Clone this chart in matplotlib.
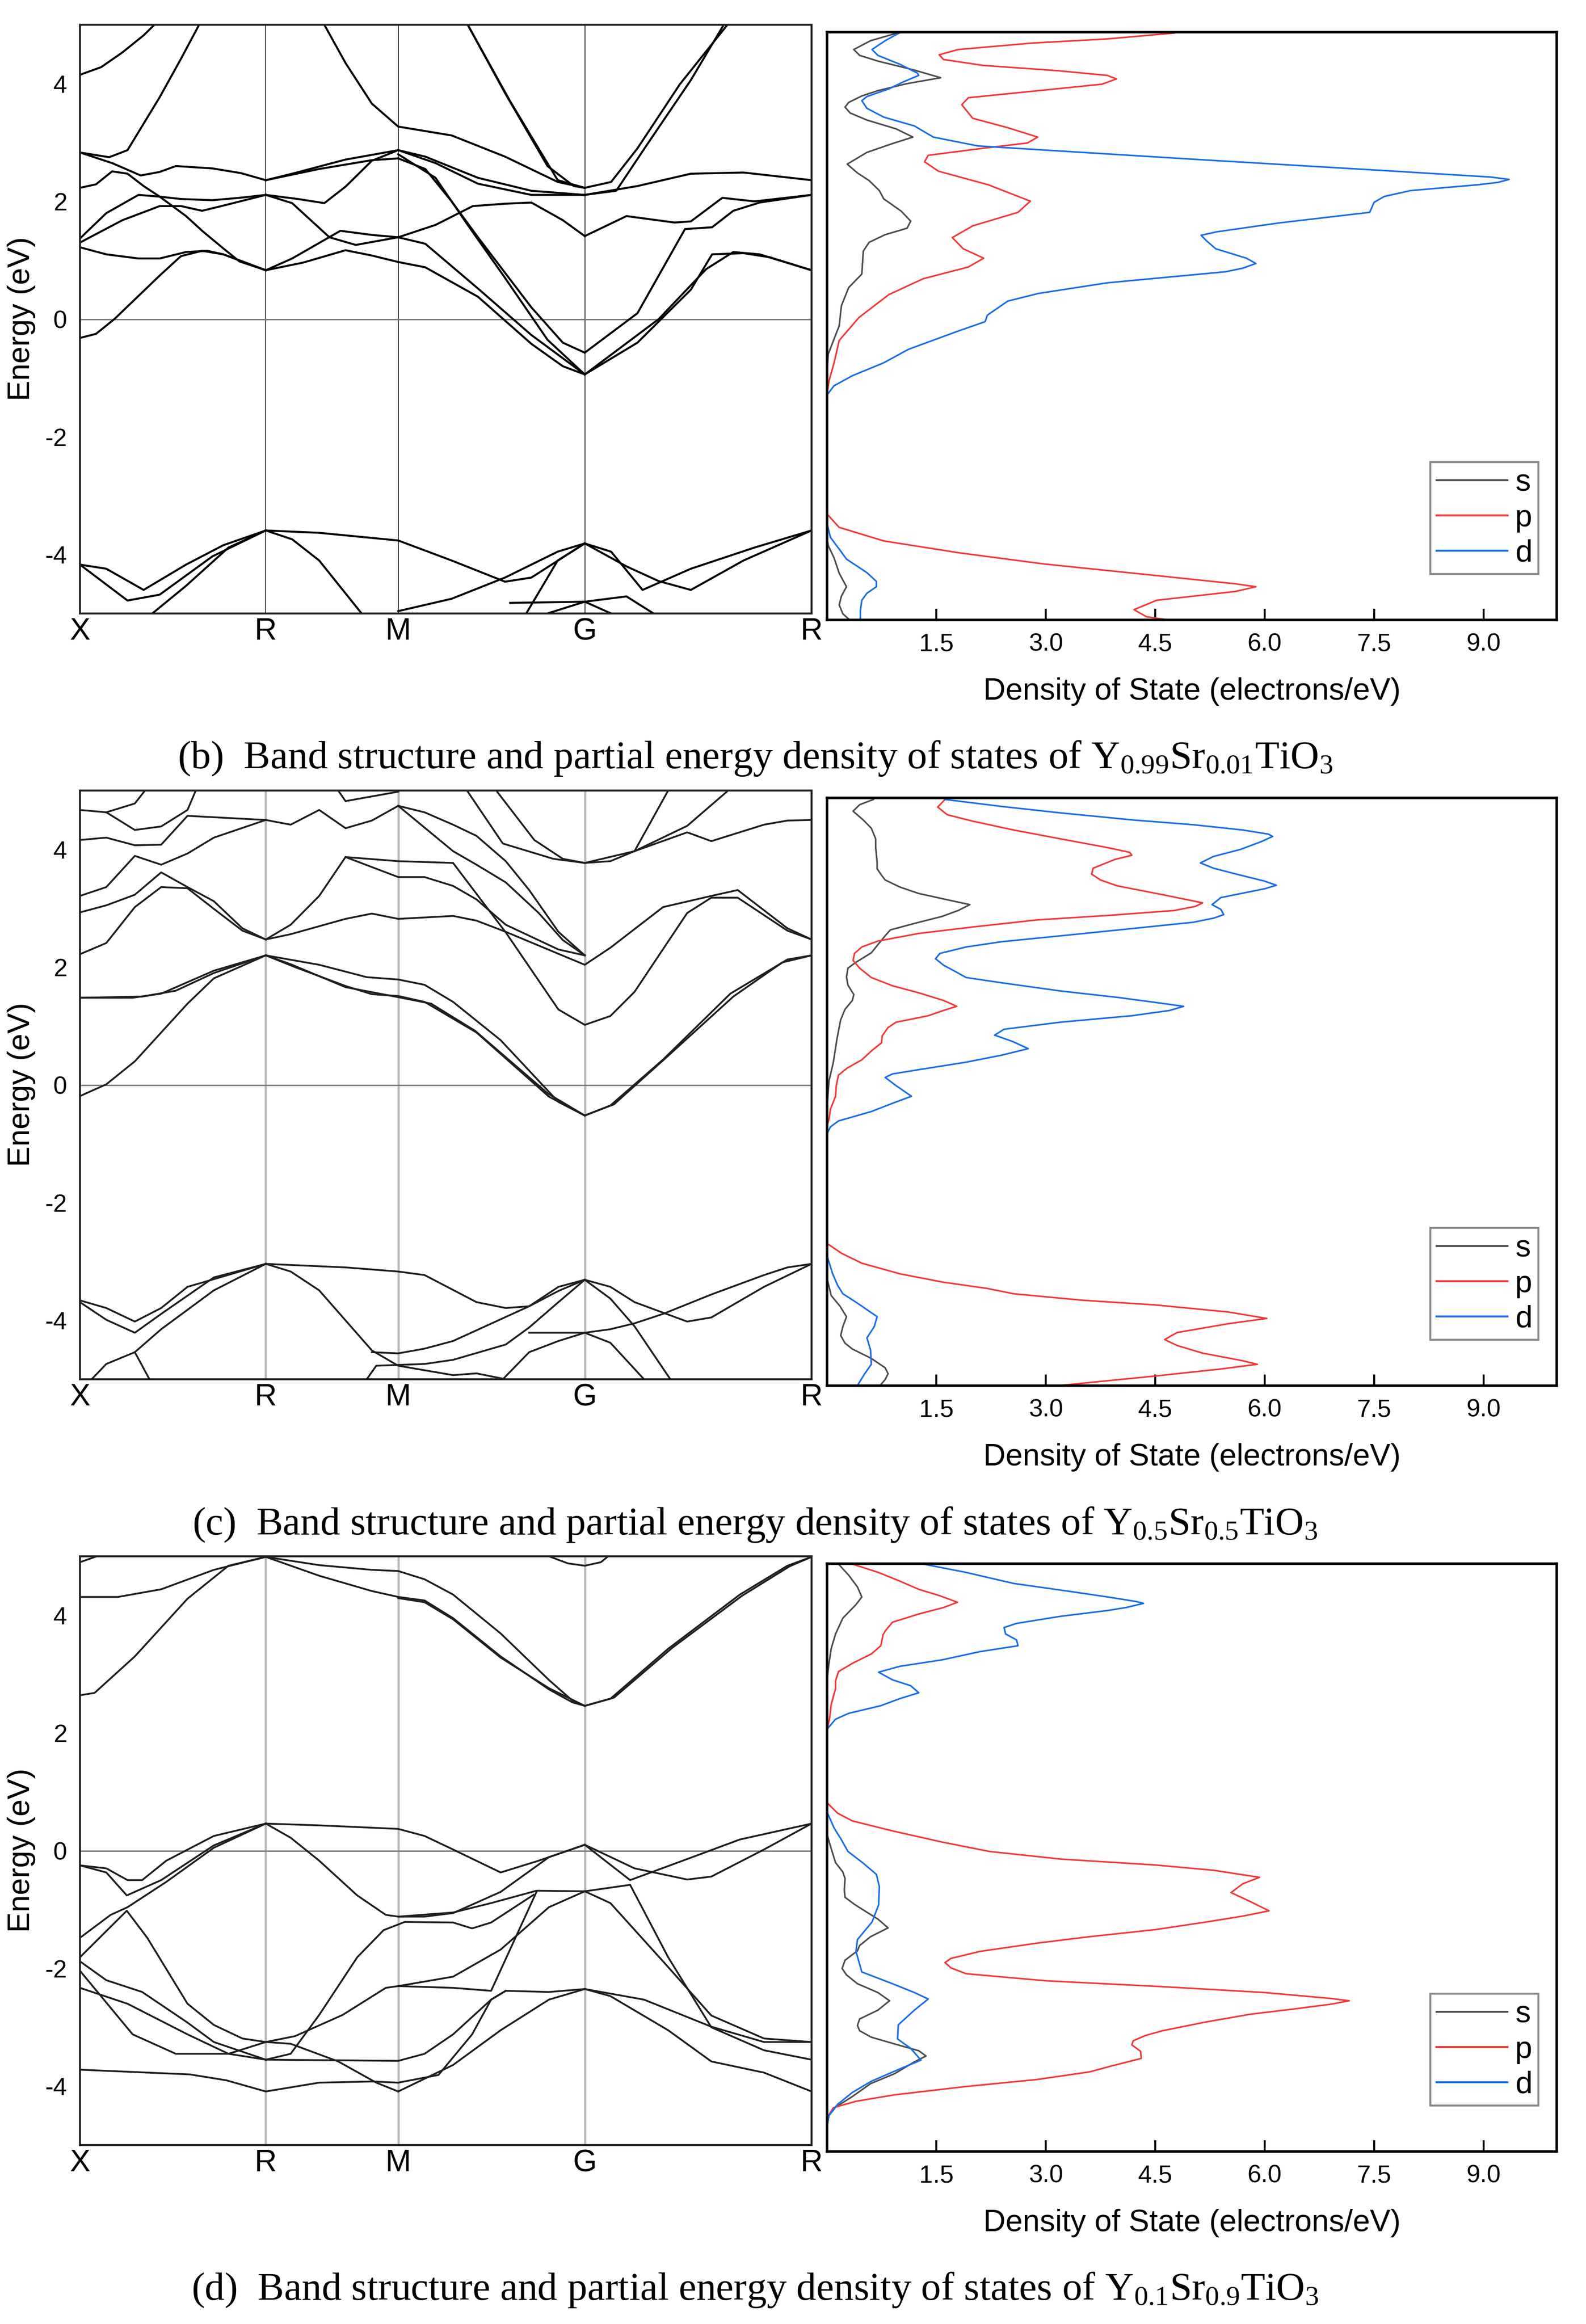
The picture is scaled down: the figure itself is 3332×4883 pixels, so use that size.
import numpy as np
import matplotlib.pyplot as plt
from matplotlib.lines import Line2D

plt.rcParams['font.family'] = ['Liberation Sans', 'DejaVu Sans']
plt.rcParams['axes.unicode_minus'] = False

# --- path / axes values ---
K_NODES = [0.0, 0.254, 0.435, 0.690, 1.0]
K_NAMES = ['X', 'R', 'M', 'G', 'R']
E_TICKS = [-4, -2, 0, 2, 4]
DOS_TICKS = [1.5, 3.0, 4.5, 6.0, 7.5, 9.0]
DOS_TICK_LABELS = ['1.5', '3.0', '4.5', '6.0', '7.5', '9.0']
ORBITALS = ['s', 'p', 'd']

CAPTIONS = [
    '(b)  Band structure and partial energy density of states of '
    'Y$\\mathregular{_{0.99}}$Sr$\\mathregular{_{0.01}}$TiO$\\mathregular{_3}$',
    '(c)  Band structure and partial energy density of states of '
    'Y$\\mathregular{_{0.5}}$Sr$\\mathregular{_{0.5}}$TiO$\\mathregular{_3}$',
    '(d)  Band structure and partial energy density of states of '
    'Y$\\mathregular{_{0.1}}$Sr$\\mathregular{_{0.9}}$TiO$\\mathregular{_3}$',
]

# --- bands, (k, E) ---
bands_b = [
    [(0, 4.15), (0.029, 4.28), (0.058, 4.53), (0.087, 4.82), (0.11, 5.1)],
    [(0, 2.83), (0.040, 2.75), (0.065, 2.87), (0.109, 3.77), (0.138, 4.42), (0.165, 5.05)],
    [(0, 2.83), (0.044, 2.65), (0.083, 2.44), (0.109, 2.5), (0.131, 2.6), (0.181, 2.56), (0.22, 2.48), (0.254, 2.36)],
    [(0, 2.23), (0.022, 2.29), (0.044, 2.51), (0.065, 2.47), (0.087, 2.26), (0.109, 2.08), (0.145, 1.75),
     (0.167, 1.50), (0.196, 1.2), (0.218, 0.98), (0.254, 0.83)],
    [(0, 1.37), (0.036, 1.80), (0.080, 2.11), (0.109, 2.08), (0.138, 2.04), (0.181, 2.02), (0.218, 2.06), (0.254, 2.11)],
    [(0, 1.30), (0.058, 1.68), (0.109, 1.92), (0.138, 1.92), (0.167, 1.84), (0.203, 1.95), (0.254, 2.11)],
    [(0, 1.22), (0.036, 1.10), (0.080, 1.03), (0.109, 1.03), (0.145, 1.14), (0.174, 1.16), (0.196, 1.1), (0.254, 0.83)],
    [(0, -0.32), (0.022, -0.25), (0.047, 0.0), (0.109, 0.74), (0.138, 1.07), (0.167, 1.16), (0.196, 1.10), (0.254, 0.83)],
    [(0.254, 2.36), (0.29, 2.47), (0.363, 2.71), (0.435, 2.87)],
    [(0.254, 2.36), (0.327, 2.55), (0.399, 2.7), (0.435, 2.73)],
    [(0.254, 2.11), (0.29, 1.97), (0.341, 1.39), (0.377, 1.26), (0.435, 1.39)],
    [(0.254, 2.11), (0.298, 2.04), (0.334, 1.97), (0.363, 2.25), (0.399, 2.69), (0.435, 2.87)],
    [(0.254, 0.83), (0.29, 1.03), (0.356, 1.50), (0.399, 1.43), (0.435, 1.39)],
    [(0.254, 0.83), (0.305, 0.96), (0.363, 1.17), (0.399, 1.08), (0.435, 0.97)],
    [(0.334, 5.0), (0.363, 4.35), (0.399, 3.66), (0.435, 3.27), (0.508, 3.12), (0.581, 2.76),
     (0.653, 2.33), (0.690, 2.23)],
    [(0.435, 2.87), (0.472, 2.76), (0.544, 2.40), (0.617, 2.18), (0.690, 2.11)],
    [(0.435, 2.87), (0.486, 2.65), (0.544, 2.30), (0.617, 2.11), (0.690, 2.11)],
    [(0.435, 2.73), (0.472, 2.55), (0.508, 2.0), (0.544, 1.39), (0.617, 0.2), (0.660, -0.4), (0.690, -0.57)],
    [(0.435, 2.8), (0.486, 2.4), (0.530, 1.6), (0.581, 0.7), (0.639, -0.35), (0.690, -0.94)],
    [(0.435, 1.39), (0.472, 1.28), (0.544, 0.52), (0.617, -0.27), (0.690, -0.94)],
    [(0.435, 0.97), (0.472, 0.88), (0.544, 0.38), (0.617, -0.42), (0.660, -0.8), (0.690, -0.94)],
    [(0.435, 1.39), (0.486, 1.6), (0.537, 1.92), (0.581, 1.96), (0.617, 1.98), (0.660, 1.68), (0.690, 1.41)],
    [(0.530, 5.0), (0.581, 3.84), (0.639, 2.6), (0.675, 2.26), (0.690, 2.23)],
    [(0.530, 5.0), (0.588, 3.70), (0.653, 2.36), (0.690, 2.23)],
    [(0.690, 2.23), (0.726, 2.33), (0.762, 2.9), (0.820, 3.99), (0.885, 5.0)],
    [(0.690, 2.11), (0.733, 2.18), (0.776, 2.98), (0.835, 4.06), (0.88, 5.0)],
    [(0.690, 2.11), (0.762, 2.26), (0.835, 2.47), (0.907, 2.49), (1.0, 2.36)],
    [(0.690, 1.41), (0.747, 1.75), (0.813, 1.64), (0.835, 1.66), (0.878, 2.06), (0.922, 2.0), (1.0, 2.11)],
    [(0.690, -0.57), (0.762, 0.1), (0.827, 1.53), (0.864, 1.56), (0.893, 1.84), (0.929, 1.98), (1.0, 2.11)],
    [(0.690, -0.94), (0.762, -0.4), (0.835, 0.5), (0.864, 1.1), (0.907, 1.12), (0.943, 1.05), (1.0, 0.83)],
    [(0.690, -0.94), (0.791, 0.0), (0.856, 0.85), (0.893, 1.14), (0.929, 1.1), (1.0, 0.83)],
    [(0, -4.17), (0.036, -4.24), (0.087, -4.6), (0.145, -4.17), (0.196, -3.84), (0.254, -3.59)],
    [(0, -4.17), (0.065, -4.78), (0.109, -4.68), (0.181, -4.03), (0.254, -3.59)],
    [(0.094, -5.05), (0.145, -4.53), (0.203, -3.88), (0.254, -3.59)],
    [(0.254, -3.59), (0.327, -3.63), (0.435, -3.76), (0.508, -4.10), (0.581, -4.46), (0.617, -4.39), (0.690, -3.81)],
    [(0.254, -3.59), (0.290, -3.74), (0.327, -4.1), (0.385, -5.0)],
    [(0.435, -4.96), (0.508, -4.75), (0.581, -4.39), (0.653, -3.95), (0.690, -3.81)],
    [(0.61, -5.0), (0.653, -4.1), (0.690, -3.81)],
    [(0.690, -3.81), (0.726, -3.95), (0.769, -4.6), (0.835, -4.24), (0.922, -3.88), (1.0, -3.59)],
    [(0.690, -3.81), (0.747, -4.2), (0.791, -4.45), (0.835, -4.6), (0.907, -4.1), (1.0, -3.59)],
    [(0.588, -4.82), (0.690, -4.8), (0.747, -4.71), (0.784, -5.0)],
    [(0.639, -5.0), (0.690, -4.8), (0.726, -5.0)],
]

bands_c = [
    [(0, -0.19), (0.036, 0.01), (0.075, 0.40), (0.147, 1.38), (0.183, 1.81), (0.254, 2.20)],
    [(0, 1.48), (0.072, 1.48), (0.111, 1.55), (0.183, 1.94), (0.254, 2.2)],
    [(0, 1.48), (0.085, 1.50), (0.131, 1.6), (0.183, 1.90), (0.254, 2.2)],
    [(0.254, 2.2), (0.327, 2.04), (0.392, 1.83), (0.435, 1.79), (0.471, 1.70), (0.510, 1.41), (0.575, 0.76),
     (0.654, -0.29), (0.690, -0.52)],
    [(0.254, 2.2), (0.294, 2.0), (0.363, 1.68), (0.399, 1.54), (0.435, 1.51), (0.471, 1.41), (0.542, 0.89),
     (0.641, -0.2), (0.690, -0.52)],
    [(0.254, 2.2), (0.288, 2.05), (0.363, 1.66), (0.435, 1.49), (0.480, 1.38), (0.54, 0.92), (0.64, -0.15), (0.690, -0.52)],
    [(0.690, -0.52), (0.725, -0.35), (0.797, 0.43), (0.889, 1.55), (0.967, 2.13), (1.0, 2.2)],
    [(0.690, -0.52), (0.73, -0.33), (0.80, 0.45), (0.893, 1.5), (0.96, 2.08), (1.0, 2.2)],
    [(0, 2.22), (0.036, 2.41), (0.075, 3.02), (0.111, 3.36), (0.147, 3.34), (0.183, 2.99), (0.222, 2.62), (0.254, 2.47)],
    [(0, 2.93), (0.036, 3.05), (0.075, 3.23), (0.111, 3.61), (0.147, 3.36), (0.183, 3.12), (0.222, 2.66), (0.254, 2.47)],
    [(0, 3.21), (0.036, 3.36), (0.075, 3.89), (0.111, 3.74), (0.147, 3.93), (0.183, 4.2), (0.254, 4.5)],
    [(0, 4.16), (0.036, 4.20), (0.075, 4.07), (0.111, 4.08), (0.147, 4.57), (0.254, 4.5)],
    [(0, 4.67), (0.036, 4.63), (0.075, 4.33), (0.111, 4.39), (0.147, 4.67), (0.160, 5.05)],
    [(0.036, 4.63), (0.075, 4.78), (0.092, 5.05)],
    [(0.254, 4.5), (0.288, 4.42), (0.327, 4.67), (0.363, 4.36), (0.399, 4.49), (0.435, 4.74)],
    [(0.353, 5.0), (0.363, 4.82), (0.435, 4.98)],
    [(0.254, 2.47), (0.288, 2.56), (0.363, 2.82), (0.399, 2.91), (0.435, 2.82), (0.510, 2.87), (0.542, 2.79),
     (0.582, 2.6), (0.690, 2.04), (0.725, 2.33), (0.797, 3.02), (0.863, 3.21), (0.899, 3.31), (0.967, 2.66), (1.0, 2.47)],
    [(0.254, 2.47), (0.288, 2.72), (0.327, 3.21), (0.363, 3.87), (0.435, 3.80), (0.51, 3.77), (0.582, 2.59),
     (0.654, 1.28), (0.690, 1.02), (0.725, 1.17), (0.758, 1.58), (0.830, 2.92), (0.863, 3.18), (0.899, 3.18),
     (0.967, 2.62), (1.0, 2.47)],
    [(0.363, 3.87), (0.399, 3.70), (0.435, 3.53), (0.471, 3.53), (0.510, 3.38), (0.542, 3.15), (0.582, 2.72),
     (0.654, 2.3), (0.690, 2.2)],
    [(0.435, 4.74), (0.471, 4.63), (0.510, 4.42), (0.542, 4.23), (0.582, 3.80), (0.614, 3.31), (0.654, 2.6), (0.690, 2.2)],
    [(0.435, 4.74), (0.510, 3.97), (0.542, 3.74), (0.582, 3.44), (0.627, 2.92), (0.660, 2.46), (0.690, 2.2)],
    [(0.529, 5.0), (0.578, 4.10), (0.647, 3.84), (0.690, 3.77)],
    [(0.569, 5.0), (0.621, 4.16), (0.660, 3.84), (0.690, 3.77)],
    [(0.690, 3.77), (0.725, 3.80), (0.758, 3.97), (0.804, 5.0)],
    [(0.690, 3.77), (0.758, 3.97), (0.830, 4.29), (0.863, 4.14), (0.935, 4.42), (0.967, 4.49), (1.0, 4.5)],
    [(0.758, 3.97), (0.83, 4.4), (0.886, 5.0)],
    [(0, -3.66), (0.036, -3.79), (0.075, -4.02), (0.111, -3.79), (0.147, -3.43), (0.183, -3.30), (0.254, -3.04)],
    [(0, -3.69), (0.036, -3.99), (0.075, -4.21), (0.111, -3.89), (0.183, -3.27), (0.254, -3.04)],
    [(0.016, -5.0), (0.036, -4.74), (0.075, -4.54), (0.111, -4.15), (0.183, -3.49), (0.254, -3.04)],
    [(0.075, -4.54), (0.095, -5.0)],
    [(0.254, -3.04), (0.363, -3.10), (0.435, -3.17), (0.471, -3.23), (0.542, -3.69), (0.582, -3.79),
     (0.614, -3.76), (0.654, -3.43), (0.690, -3.31)],
    [(0.254, -3.04), (0.288, -3.17), (0.327, -3.49), (0.399, -4.51), (0.435, -4.77), (0.510, -4.93),
     (0.542, -4.90), (0.582, -5.0)],
    [(0.399, -4.54), (0.435, -4.56), (0.471, -4.48), (0.510, -4.35), (0.614, -3.76), (0.654, -3.5), (0.690, -3.31)],
    [(0.392, -5.0), (0.405, -4.77), (0.471, -4.74), (0.510, -4.67), (0.582, -4.41), (0.614, -4.12),
     (0.654, -3.69), (0.690, -3.31)],
    [(0.690, -3.31), (0.725, -3.43), (0.758, -3.69), (0.830, -4.02), (0.863, -3.95), (0.935, -3.43), (1.0, -3.04)],
    [(0.614, -4.21), (0.654, -4.21), (0.690, -4.21), (0.725, -4.15), (0.758, -4.05), (0.797, -3.89),
     (0.863, -3.56), (0.935, -3.23), (0.967, -3.10), (1.0, -3.04)],
    [(0.690, -3.31), (0.725, -3.63), (0.758, -4.1), (0.807, -5.0)],
    [(0.578, -5.0), (0.614, -4.54), (0.654, -4.35), (0.690, -4.21), (0.725, -4.38), (0.771, -5.0)],
]

bands_d = [
    [(0, 4.31), (0.052, 4.31), (0.111, 4.44), (0.183, 4.77), (0.254, 4.99)],
    [(0, 2.64), (0.020, 2.68), (0.075, 3.30), (0.147, 4.28), (0.203, 4.84), (0.254, 4.99)],
    [(0, 4.90), (0.023, 5.0)],
    [(0.254, 4.99), (0.327, 4.67), (0.399, 4.41), (0.435, 4.31), (0.471, 4.25), (0.510, 3.95), (0.575, 3.30),
     (0.641, 2.74), (0.673, 2.52), (0.690, 2.46)],
    [(0.254, 4.99), (0.327, 4.85), (0.399, 4.77), (0.435, 4.75), (0.471, 4.61), (0.510, 4.35), (0.575, 3.69),
     (0.641, 2.90), (0.673, 2.55), (0.690, 2.46)],
    [(0.435, 4.29), (0.471, 4.22), (0.510, 3.93), (0.575, 3.28), (0.641, 2.76), (0.690, 2.46)],
    [(0.690, 2.46), (0.725, 2.58), (0.804, 3.43), (0.902, 4.35), (0.967, 4.84), (1.0, 4.99)],
    [(0.690, 2.46), (0.73, 2.6), (0.81, 3.45), (0.905, 4.33), (0.97, 4.83), (1.0, 4.99)],
    [(0.641, 5.0), (0.667, 4.88), (0.690, 4.84), (0.712, 4.90), (0.722, 5.0)],
    [(0, -0.25), (0.036, -0.30), (0.065, -0.50), (0.085, -0.50), (0.118, -0.17), (0.183, 0.25), (0.254, 0.46)],
    [(0, -0.25), (0.036, -0.37), (0.064, -0.76), (0.111, -0.50), (0.183, 0.09), (0.254, 0.46)],
    [(0, -1.48), (0.042, -1.09), (0.065, -0.96), (0.118, -0.53), (0.183, 0.05), (0.254, 0.46)],
    [(0, -1.81), (0.064, -1.02), (0.092, -1.48), (0.147, -2.6), (0.183, -2.96), (0.222, -3.19), (0.254, -3.25),
     (0.294, -3.15), (0.359, -2.79), (0.418, -2.33), (0.435, -2.30)],
    [(0.254, 0.46), (0.327, 0.43), (0.435, 0.37), (0.471, 0.25), (0.510, 0.02), (0.575, -0.37), (0.627, -0.17), (0.690, 0.10)],
    [(0.254, 0.46), (0.288, 0.22), (0.327, -0.17), (0.379, -0.76), (0.418, -1.09), (0.435, -1.12), (0.471, -1.12),
     (0.510, -1.06), (0.575, -0.70), (0.641, -0.11), (0.690, 0.10)],
    [(0.435, -1.12), (0.510, -1.05), (0.562, -0.89), (0.624, -0.68), (0.690, -0.69), (0.752, -0.58),
     (0.804, -1.81), (0.863, -3.0), (0.935, -3.39), (1.0, -3.55)],
    [(0.254, -3.55), (0.288, -3.45), (0.327, -2.79), (0.379, -1.81), (0.415, -1.35), (0.444, -1.21),
     (0.510, -1.22), (0.536, -1.32), (0.562, -1.22), (0.62, -0.75)],
    [(0.690, 0.10), (0.758, -0.30), (0.830, -0.49), (0.863, -0.44), (0.935, 0.02), (1.0, 0.46)],
    [(0.690, 0.10), (0.752, -0.50), (0.837, -0.11), (0.902, 0.19), (1.0, 0.46)],
    [(0.690, -0.69), (0.725, -0.89), (0.797, -1.88), (0.863, -2.8), (0.935, -3.19), (1.0, -3.25)],
    [(0.435, -2.30), (0.510, -2.14), (0.575, -1.68), (0.641, -0.96), (0.690, -0.69)],
    [(0.435, -2.30), (0.510, -2.33), (0.562, -2.38), (0.624, -0.70)],
    [(0.435, -3.94), (0.490, -3.81), (0.536, -3.12), (0.562, -2.53), (0.582, -2.38), (0.641, -2.40), (0.690, -2.35)],
    [(0.435, -4.09), (0.510, -3.64), (0.575, -3.05), (0.641, -2.53), (0.690, -2.35)],
    [(0.690, -2.35), (0.725, -2.47), (0.804, -3.05), (0.863, -3.58), (0.935, -3.77), (1.0, -4.09)],
    [(0.690, -2.35), (0.771, -2.53), (0.863, -2.99), (0.935, -3.25), (1.0, -3.25)],
    [(0, -3.72), (0.150, -3.80), (0.200, -3.90), (0.254, -4.09), (0.327, -3.94), (0.40, -3.92), (0.435, -3.94)],
    [(0.254, -3.55), (0.435, -3.57), (0.471, -3.45), (0.510, -3.12), (0.562, -2.53), (0.582, -2.38)],
    [(0.254, -3.25), (0.288, -3.28), (0.353, -3.58), (0.405, -3.94), (0.435, -4.09)],
    [(0, -1.88), (0.036, -2.2), (0.085, -2.4), (0.147, -2.92), (0.183, -3.25), (0.254, -3.55)],
    [(0, -2.33), (0.065, -2.60), (0.147, -3.12), (0.203, -3.45), (0.254, -3.55)],
    [(0, -2.04), (0.072, -3.12), (0.131, -3.45), (0.203, -3.45), (0.254, -3.25)],
]

# --- partial DOS, (E, states) ---
dos_b_s = [(5.0, 1.02), (4.85, 0.6), (4.7, 0.37), (4.6, 0.45), (4.5, 0.71), (4.35, 1.2), (4.22, 1.56),
           (4.12, 1.1), (4.0, 0.7), (3.91, 0.48), (3.8, 0.3), (3.72, 0.25), (3.62, 0.32), (3.5, 0.55),
           (3.35, 0.95), (3.21, 1.18), (3.1, 0.9), (2.95, 0.55), (2.75, 0.28), (2.6, 0.42), (2.47, 0.58),
           (2.3, 0.72), (2.16, 0.78), (1.95, 1.02), (1.78, 1.15), (1.66, 1.1), (1.55, 0.8), (1.42, 0.58),
           (1.27, 0.5), (0.88, 0.48), (0.65, 0.3), (0.34, 0.2), (0.0, 0.17), (-0.48, 0.02), (-0.8, 0.0),
           (-3.6, 0.0), (-3.74, 0.02), (-3.95, 0.1), (-4.21, 0.17), (-4.44, 0.27), (-4.6, 0.2),
           (-4.75, 0.17), (-4.9, 0.22), (-5.0, 0.31)]
dos_b_p = [(4.98, 4.76), (4.88, 3.84), (4.81, 2.82), (4.70, 1.80), (4.61, 1.54), (4.53, 1.60), (4.43, 2.14),
           (4.34, 3.16), (4.26, 3.84), (4.2, 3.97), (4.11, 3.77), (3.99, 2.82), (3.88, 1.94), (3.76, 1.85),
           (3.53, 2.0), (3.37, 2.48), (3.21, 2.89), (3.11, 2.75), (3.02, 2.14), (2.90, 1.39), (2.79, 1.34),
           (2.63, 1.53), (2.40, 2.21), (2.12, 2.79), (1.93, 2.62), (1.70, 2.0), (1.50, 1.72), (1.31, 1.87),
           (1.15, 2.15), (1.00, 1.94), (0.80, 1.32), (0.53, 0.85), (0.14, 0.44), (-0.25, 0.17),
           (-0.63, 0.1), (-0.94, 0.03), (-1.18, 0.0), (-3.2, 0.0), (-3.43, 0.17), (-3.66, 0.78),
           (-3.86, 1.8), (-4.05, 2.96), (-4.25, 4.52), (-4.39, 5.6), (-4.44, 5.88), (-4.52, 5.6),
           (-4.67, 4.52), (-4.83, 4.21), (-4.95, 4.38), (-5.0, 4.65)]
dos_b_d = [(4.98, 0.99), (4.85, 0.80), (4.7, 0.62), (4.6, 0.70), (4.45, 1.0), (4.3, 1.24), (4.26, 1.26),
           (4.15, 1.05), (4.03, 0.85), (3.9, 0.55), (3.83, 0.48), (3.7, 0.55), (3.55, 0.78), (3.4, 1.2),
           (3.21, 1.46), (3.06, 2.07), (2.95, 3.5), (2.82, 5.2), (2.63, 7.78), (2.53, 9.1), (2.49, 9.35),
           (2.44, 9.2), (2.40, 8.93), (2.3, 8.0), (2.2, 7.64), (2.1, 7.5), (1.93, 7.44), (1.75, 6.2),
           (1.6, 5.35), (1.54, 5.13), (1.45, 5.2), (1.31, 5.33), (1.15, 5.75), (1.06, 5.88), (0.98, 5.7),
           (0.92, 5.47), (0.73, 3.84), (0.55, 2.9), (0.42, 2.48), (0.18, 2.2), (0.07, 2.17), (-0.09, 1.8),
           (-0.4, 1.12), (-0.63, 0.78), (-0.85, 0.35), (-1.02, 0.1), (-1.18, 0.0), (-3.35, 0.0),
           (-3.6, 0.05), (-3.85, 0.2), (-3.97, 0.27), (-4.2, 0.55), (-4.35, 0.68), (-4.44, 0.68),
           (-4.55, 0.55), (-4.67, 0.48), (-4.85, 0.46), (-5.0, 0.46)]

dos_c_s = [(4.97, 0.64), (4.88, 0.45), (4.77, 0.36), (4.62, 0.5), (4.48, 0.61), (4.3, 0.67), (4.15, 0.67),
           (3.9, 0.69), (3.79, 0.69), (3.68, 0.75), (3.6, 0.8), (3.48, 1.0), (3.37, 1.26), (3.25, 1.7),
           (3.18, 1.96), (3.08, 1.8), (2.98, 1.58), (2.86, 1.2), (2.75, 0.87), (2.65, 0.8), (2.56, 0.74),
           (2.36, 0.61), (2.2, 0.4), (2.1, 0.29), (1.95, 0.27), (1.81, 0.29), (1.65, 0.37), (1.55, 0.35),
           (1.4, 0.25), (1.22, 0.19), (0.9, 0.14), (0.5, 0.09), (0.18, 0.03), (-0.15, 0.01), (-0.5, 0.0),
           (-3.21, 0.01), (-3.47, 0.06), (-3.65, 0.18), (-3.83, 0.27), (-4.0, 0.22), (-4.15, 0.19),
           (-4.28, 0.25), (-4.38, 0.35), (-4.54, 0.61), (-4.7, 0.8), (-4.8, 0.84), (-4.9, 0.8), (-5.0, 0.73)]
dos_c_p = [(4.97, 1.62), (4.84, 1.52), (4.71, 1.65), (4.6, 2.0), (4.45, 2.56), (4.3, 3.2), (4.15, 3.85),
           (4.07, 4.15), (4.02, 4.18), (3.95, 3.95), (3.8, 3.65), (3.7, 3.63), (3.6, 3.75), (3.5, 3.98),
           (3.35, 4.6), (3.21, 5.15), (3.15, 5.05), (3.08, 4.76), (3.0, 3.9), (2.92, 2.88), (2.8, 2.0),
           (2.69, 1.26), (2.56, 0.7), (2.46, 0.48), (2.35, 0.38), (2.23, 0.36), (2.1, 0.45), (1.94, 0.61),
           (1.8, 0.9), (1.68, 1.26), (1.55, 1.6), (1.45, 1.78), (1.38, 1.6), (1.29, 1.39), (1.18, 0.95),
           (1.09, 0.84), (0.95, 0.76), (0.83, 0.75), (0.7, 0.62), (0.54, 0.48), (0.4, 0.28), (0.28, 0.16),
           (0.1, 0.13), (-0.08, 0.12), (-0.3, 0.05), (-0.47, 0.03), (-0.6, 0.0), (-2.59, 0.01),
           (-2.75, 0.2), (-2.92, 0.48), (-3.1, 1.0), (-3.24, 1.58), (-3.35, 2.2), (-3.44, 2.56),
           (-3.55, 3.5), (-3.63, 4.5), (-3.75, 5.5), (-3.86, 6.03), (-3.95, 5.5), (-4.1, 4.8),
           (-4.22, 4.63), (-4.32, 4.8), (-4.45, 5.15), (-4.58, 5.7), (-4.64, 5.9), (-4.72, 5.4),
           (-4.84, 4.5), (-4.95, 3.6), (-5.0, 3.21)]
dos_c_d = [(4.97, 1.62), (4.85, 2.4), (4.74, 3.21), (4.62, 4.2), (4.54, 5.02), (4.45, 5.7), (4.38, 6.05),
           (4.34, 6.11), (4.25, 5.95), (4.12, 5.67), (4.0, 5.3), (3.89, 5.12), (3.8, 5.3), (3.7, 5.61),
           (3.58, 6.0), (3.51, 6.16), (3.45, 6.0), (3.4, 5.8), (3.3, 5.4), (3.18, 5.28), (3.1, 5.4),
           (3.01, 5.44), (2.95, 5.3), (2.88, 5.02), (2.75, 4.0), (2.65, 3.21), (2.55, 2.4), (2.46, 1.91),
           (2.35, 1.55), (2.26, 1.49), (2.15, 1.6), (2.05, 1.75), (1.94, 1.91), (1.85, 2.4), (1.71, 3.21),
           (1.6, 4.0), (1.5, 4.6), (1.45, 4.89), (1.38, 4.7), (1.29, 4.18), (1.18, 3.2), (1.06, 2.43),
           (0.96, 2.3), (0.85, 2.55), (0.73, 2.76), (0.62, 2.4), (0.5, 1.91), (0.38, 1.3), (0.3, 0.9),
           (0.24, 0.8), (0.1, 0.95), (-0.08, 1.16), (-0.2, 0.9), (-0.34, 0.61), (-0.5, 0.16), (-0.6, 0.05),
           (-0.7, 0.01), (-0.9, 0.0), (-2.82, 0.01), (-3.1, 0.08), (-3.3, 0.15), (-3.44, 0.22),
           (-3.6, 0.42), (-3.83, 0.69), (-4.0, 0.65), (-4.19, 0.55), (-4.4, 0.6), (-4.64, 0.61),
           (-4.8, 0.52), (-5.0, 0.42)]

dos_d_s = [(4.99, 0.16), (4.8, 0.3), (4.6, 0.42), (4.43, 0.48), (4.3, 0.4), (4.07, 0.22), (3.8, 0.12),
           (3.55, 0.06), (3.3, 0.03), (3.1, 0.01), (2.8, 0.0), (0.5, 0.0), (0.36, 0.01), (0.15, 0.06),
           (-0.09, 0.12), (-0.25, 0.22), (-0.36, 0.25), (-0.55, 0.24), (-0.68, 0.25), (-0.8, 0.38),
           (-0.88, 0.48), (-1.05, 0.7), (-1.2, 0.84), (-1.35, 0.6), (-1.5, 0.45), (-1.59, 0.42),
           (-1.75, 0.25), (-1.89, 0.21), (-2.0, 0.27), (-2.15, 0.42), (-2.3, 0.7), (-2.44, 0.86),
           (-2.6, 0.7), (-2.75, 0.45), (-2.86, 0.42), (-2.95, 0.45), (-3.06, 0.61), (-3.2, 1.0),
           (-3.29, 1.26), (-3.38, 1.36), (-3.48, 1.2), (-3.68, 0.93), (-3.85, 0.6), (-4.07, 0.35),
           (-4.25, 0.12), (-4.39, 0.03), (-4.6, 0.0), (-5.0, 0.0)]
dos_d_p = [(4.99, 0.35), (4.85, 0.7), (4.7, 1.0), (4.56, 1.26), (4.45, 1.55), (4.34, 1.79), (4.25, 1.6),
           (4.14, 1.26), (4.0, 0.9), (3.85, 0.8), (3.78, 0.77), (3.6, 0.74), (3.46, 0.61), (3.3, 0.35),
           (3.16, 0.16), (3.0, 0.12), (2.87, 0.12), (2.6, 0.06), (2.38, 0.04), (2.2, 0.01), (2.0, 0.0),
           (1.1, 0.0), (0.92, 0.01), (0.75, 0.15), (0.62, 0.35), (0.45, 0.9), (0.26, 1.58), (0.1, 2.23),
           (-0.03, 3.21), (-0.13, 4.5), (-0.22, 5.3), (-0.34, 5.93), (-0.45, 5.7), (-0.6, 5.54),
           (-0.75, 5.8), (-0.91, 6.06), (-1.0, 5.7), (-1.1, 5.2), (-1.23, 4.5), (-1.35, 3.6),
           (-1.46, 2.88), (-1.6, 2.1), (-1.72, 1.7), (-1.79, 1.62), (-1.88, 1.7), (-1.98, 1.91),
           (-2.1, 3.0), (-2.2, 4.6), (-2.3, 6.0), (-2.4, 6.9), (-2.44, 7.16), (-2.5, 6.9), (-2.58, 6.4),
           (-2.67, 5.8), (-2.8, 5.2), (-2.95, 4.6), (-3.03, 4.37), (-3.12, 4.2), (-3.19, 4.18),
           (-3.3, 4.3), (-3.42, 4.31), (-3.55, 3.9), (-3.65, 3.6), (-3.78, 2.88), (-3.9, 1.9),
           (-4.04, 0.93), (-4.15, 0.4), (-4.26, 0.09), (-4.4, 0.02), (-4.49, 0.01), (-4.6, 0.0), (-5.0, 0.0)]
dos_d_d = [(4.99, 1.32), (4.85, 1.9), (4.66, 2.56), (4.53, 3.3), (4.43, 3.85), (4.35, 4.25), (4.32, 4.34),
           (4.25, 4.1), (4.2, 3.85), (4.1, 3.2), (3.98, 2.6), (3.91, 2.43), (3.8, 2.45), (3.7, 2.6),
           (3.6, 2.62), (3.5, 2.1), (3.36, 1.58), (3.25, 1.0), (3.15, 0.71), (3.02, 0.9), (2.92, 1.15),
           (2.8, 1.26), (2.7, 1.0), (2.58, 0.74), (2.45, 0.3), (2.35, 0.12), (2.19, 0.01), (2.0, 0.0),
           (0.9, 0.0), (0.75, 0.01), (0.5, 0.1), (0.3, 0.2), (0.1, 0.29), (-0.1, 0.5), (-0.29, 0.68),
           (-0.5, 0.72), (-0.81, 0.71), (-1.1, 0.62), (-1.4, 0.42), (-1.6, 0.4), (-1.95, 0.48),
           (-2.15, 0.9), (-2.3, 1.2), (-2.41, 1.39), (-2.6, 1.2), (-2.85, 0.98), (-3.09, 0.97),
           (-3.25, 1.15), (-3.45, 1.29), (-3.6, 1.0), (-3.81, 0.61), (-4.0, 0.35), (-4.2, 0.15),
           (-4.39, 0.03), (-4.52, 0.01), (-4.6, 0.0), (-5.0, 0.0)]

PANELS = [
    (bands_b, [dos_b_s, dos_b_p, dos_b_d]),
    (bands_c, [dos_c_s, dos_c_p, dos_c_d]),
    (bands_d, [dos_d_s, dos_d_p, dos_d_d]),
]
DOS_COLORS = ['#4d4d4d', '#f03a3a', '#1a6ee6']

W, H = 3332, 4883
STEP = 1609  # vertical distance between the three rows, px
fig = plt.figure(figsize=(W / 300, H / 300), dpi=300)


def fx(px):
    return px / W


def fy(px):
    return 1 - px / H


for i, (bands, dos) in enumerate(PANELS):
    off = STEP * i
    band_col = 'black' if i == 0 else '#1e1e1e'
    vcol, vlw = ('#333333', 0.45) if i == 0 else ('#b8b8b8', 1.1)

    # band structure
    ax = fig.add_axes([fx(168), fy(52 + off + 1237), fx(1537), 1237 / H])
    for xv in K_NODES[1:4]:
        ax.axvline(xv, color=vcol, lw=vlw, zorder=1)
    ax.axhline(0, color='#7a7a7a', lw=0.7, zorder=1)
    for band in bands:
        k, e = zip(*band)
        ax.plot(k, e, color=band_col, lw=1.0 if i == 0 else 0.9,
                solid_joinstyle='round', zorder=2)
    ax.set_xlim(0, 1)
    ax.set_ylim(-5, 5)
    ax.set_xticks(K_NODES)
    ax.set_xticklabels(K_NAMES, fontsize=15.5)
    ax.set_yticks(E_TICKS)
    ax.set_yticklabels([str(t) for t in E_TICKS], fontsize=12.5)
    ax.tick_params(axis='x', length=0, pad=2)
    ax.tick_params(axis='y', length=0, pad=6.5)
    for sp in ax.spines.values():
        sp.set_linewidth(1.0)
        sp.set_color('#222222')
    fig.text(fx(45), fy(52 + off + 618), 'Energy (eV)', rotation=90,
             ha='center', va='center', fontsize=15.5)

    # partial DOS
    ax2 = fig.add_axes([fx(1737), fy(67 + off + 1235), fx(1533), 1235 / H])
    for curve, col, name in zip(dos, DOS_COLORS, ORBITALS):
        e, v = zip(*curve)
        ax2.plot(v, e, color=col, lw=0.8, label=name)
    ax2.set_xlim(0, 10)
    ax2.set_ylim(-5, 5)
    ax2.set_yticks([])
    ax2.set_xticks(DOS_TICKS)
    ax2.set_xticklabels(DOS_TICK_LABELS, fontsize=12.5)
    ax2.tick_params(axis='x', direction='in', length=5.6, width=1.0, pad=6.5)
    for sp in ax2.spines.values():
        sp.set_linewidth(1.3)
    handles = [Line2D([], [], color=c, lw=1.0) for c in DOS_COLORS]
    ax2.legend(handles, ORBITALS, loc='lower right', bbox_to_anchor=(0.975, 0.078),
               fontsize=15.5, frameon=True, fancybox=False, edgecolor='#8c8c8c',
               framealpha=1, handlelength=2.3, handletextpad=0.25, borderpad=0.2,
               labelspacing=0.22, borderaxespad=0)
    fig.text(fx(2504), fy(1453 + off), 'Density of State (electrons/eV)',
             ha='center', va='center', fontsize=15.5)

    # caption
    fig.text(0.476, fy(1594 + off), CAPTIONS[i], ha='center', va='center',
             family='Liberation Serif', fontsize=20)

fig.savefig('out.png', dpi=300)
